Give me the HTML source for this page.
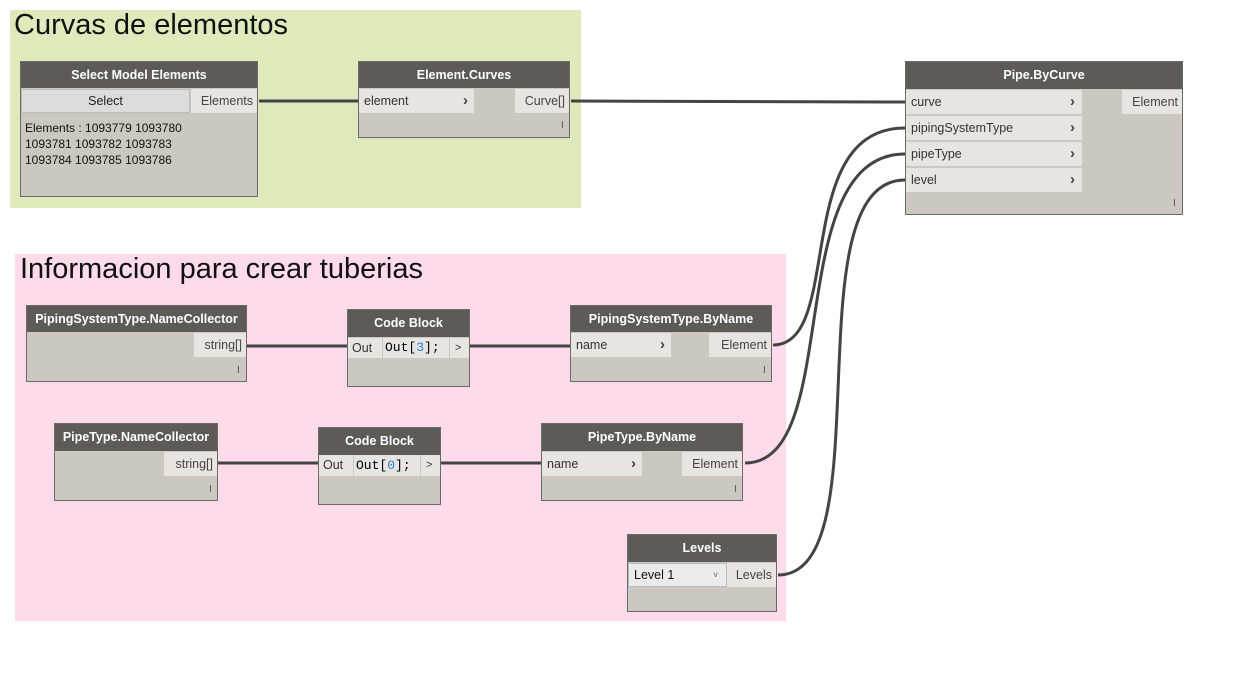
<!DOCTYPE html>
<html><head><meta charset="utf-8"><style>
body{margin:0;width:1244px;height:682px;background:#fff;position:relative;overflow:hidden;font-family:"Liberation Sans",sans-serif;}
div{position:absolute;box-sizing:border-box;}
.gt{font-size:29px;color:#111;white-space:nowrap;}
.node{background:#cbc8c1;border:1px solid #6b6a66;}
.hd{left:0;top:0;right:0;background:#5c5b58;color:#fff;font-weight:bold;font-size:12.5px;text-align:center;}
.p{background:#e6e5e1;font-size:12.5px;color:#333;padding-left:5px;white-space:nowrap;}
.pr{background:#e6e5e1;font-size:12.5px;color:#444;text-align:right;padding-right:4px;white-space:nowrap;}
.ch{font-weight:bold;font-size:15px;color:#444;}
.bar{font-size:10px;color:#555;}
.mono{font-family:"Liberation Mono",monospace;font-size:13px;}
</style></head><body>
<div style="left:10px;top:10px;width:571px;height:198px;background:#e0e9bb"></div>
<div class="gt" style="left:14px;top:9px">Curvas de elementos</div>
<div style="left:15px;top:254px;width:771px;height:367px;background:#fddbea"></div>
<div class="gt" style="left:20px;top:253px">Informacion para crear tuberias</div>

<svg width="1244" height="682" style="position:absolute;left:0;top:0;z-index:1" fill="none" stroke="#444" stroke-width="3">
<path d="M259 101 L358 101"/>
<path d="M571 101 L905 102"/>
<path d="M247 346 L347 346"/>
<path d="M470 346 L570 346"/>
<path d="M218 463 L318 463"/>
<path d="M441 463 L541 463"/>
<path d="M773 345 C845 345 790 128 905 128"/>
<path d="M745 463 C845 463 780 154 905 154"/>
<path d="M778 575 C885 575 790 180 905 180"/>
</svg>

<div style="z-index:2;left:0;top:0;width:1244px;height:682px">
<div class="node" style="left:20px;top:61px;width:238px;height:136px">
 <div class="hd" style="height:26px;line-height:26px">Select Model Elements</div>
 <div style="left:0;top:27px;width:169px;height:24px;background:#dcdcdc;border:1px solid #bbb;font-size:12.5px;text-align:center;line-height:22px;color:#222">Select</div>
 <div class="pr" style="left:170px;top:27px;width:66px;height:24px;line-height:24px">Elements</div>
 <div style="left:4px;top:58px;font-size:12px;line-height:16px;color:#111">Elements : 1093779 1093780<br>1093781 1093782 1093783<br>1093784 1093785 1093786</div>
</div>
<div class="node" style="left:358px;top:61px;width:212px;height:77px">
 <div class="hd" style="height:26px;line-height:26px">Element.Curves</div>
 <div class="p" style="left:0;top:27px;width:115px;height:24px;line-height:24px">element<span class="ch" style="position:absolute;left:104px">›</span></div>
 <div class="pr" style="left:156px;top:27px;width:54px;height:24px;line-height:24px">Curve[]</div>
 <div class="bar" style="left:202px;top:58px">I</div>
</div>
<div class="node" style="left:905px;top:61px;width:278px;height:154px">
 <div class="hd" style="height:27px;line-height:27px">Pipe.ByCurve</div>
 <div class="p" style="left:0;top:28px;width:176px;height:24px;line-height:24px">curve<span class="ch" style="position:absolute;left:164px">›</span></div>
 <div class="p" style="left:0;top:54px;width:176px;height:24px;line-height:24px">pipingSystemType<span class="ch" style="position:absolute;left:164px">›</span></div>
 <div class="p" style="left:0;top:80px;width:176px;height:24px;line-height:24px">pipeType<span class="ch" style="position:absolute;left:164px">›</span></div>
 <div class="p" style="left:0;top:106px;width:176px;height:24px;line-height:24px">level<span class="ch" style="position:absolute;left:164px">›</span></div>
 <div class="pr" style="left:216px;top:28px;width:60px;height:24px;line-height:24px">Element</div>
 <div class="bar" style="left:267px;top:136px">I</div>
</div>
<div class="node" style="left:26px;top:305px;width:221px;height:77px">
 <div class="hd" style="height:26px;line-height:26px">PipingSystemType.NameCollector</div>
 <div class="pr" style="left:167px;top:27px;width:52px;height:24px;line-height:24px">string[]</div>
 <div class="bar" style="left:210px;top:59px">I</div>
</div>
<div class="node" style="left:347px;top:309px;width:123px;height:78px">
 <div class="hd" style="height:27px;line-height:27px">Code Block</div>
 <div class="p" style="left:0;top:28px;width:34px;height:20px;line-height:20px;padding-left:4px">Out</div>
 <div class="mono" style="left:35px;top:28px;width:66px;height:20px;line-height:20px;background:#e6e5e1;padding-left:2px">Out[<span style="color:#2a7fd4">3</span>];</div>
 <div class="p" style="left:102px;top:28px;width:19px;height:20px;line-height:20px;font-size:11px">&gt;</div>
</div>
<div class="node" style="left:570px;top:305px;width:202px;height:77px">
 <div class="hd" style="height:26px;line-height:26px">PipingSystemType.ByName</div>
 <div class="p" style="left:0;top:27px;width:100px;height:24px;line-height:24px">name<span class="ch" style="position:absolute;left:89px">›</span></div>
 <div class="pr" style="left:138px;top:27px;width:62px;height:24px;line-height:24px">Element</div>
 <div class="bar" style="left:192px;top:59px">I</div>
</div>
<div class="node" style="left:54px;top:423px;width:164px;height:78px">
 <div class="hd" style="height:27px;line-height:27px">PipeType.NameCollector</div>
 <div class="pr" style="left:109px;top:28px;width:53px;height:24px;line-height:24px">string[]</div>
 <div class="bar" style="left:154px;top:60px">I</div>
</div>
<div class="node" style="left:318px;top:427px;width:123px;height:78px">
 <div class="hd" style="height:27px;line-height:27px">Code Block</div>
 <div class="p" style="left:0;top:27px;width:34px;height:21px;line-height:21px;padding-left:4px">Out</div>
 <div class="mono" style="left:35px;top:27px;width:66px;height:21px;line-height:21px;background:#e6e5e1;padding-left:2px">Out[<span style="color:#2a7fd4">0</span>];</div>
 <div class="p" style="left:102px;top:27px;width:19px;height:21px;line-height:21px;font-size:11px">&gt;</div>
</div>
<div class="node" style="left:541px;top:423px;width:202px;height:78px">
 <div class="hd" style="height:27px;line-height:27px">PipeType.ByName</div>
 <div class="p" style="left:0;top:28px;width:100px;height:24px;line-height:24px">name<span class="ch" style="position:absolute;left:89px">›</span></div>
 <div class="pr" style="left:140px;top:28px;width:60px;height:24px;line-height:24px">Element</div>
 <div class="bar" style="left:192px;top:60px">I</div>
</div>
<div class="node" style="left:627px;top:534px;width:150px;height:78px">
 <div class="hd" style="height:27px;line-height:27px">Levels</div>
 <div style="left:0;top:28px;width:99px;height:24px;line-height:22px;background:#ebebeb;border:1px solid #bbb;font-size:12.5px;color:#111;padding-left:5px">Level 1<span style="position:absolute;left:84px;font-size:9px;color:#666">˅</span></div>
 <div class="pr" style="left:99px;top:28px;width:49px;height:24px;line-height:24px">Levels</div>
</div>
</div>
</body></html>
